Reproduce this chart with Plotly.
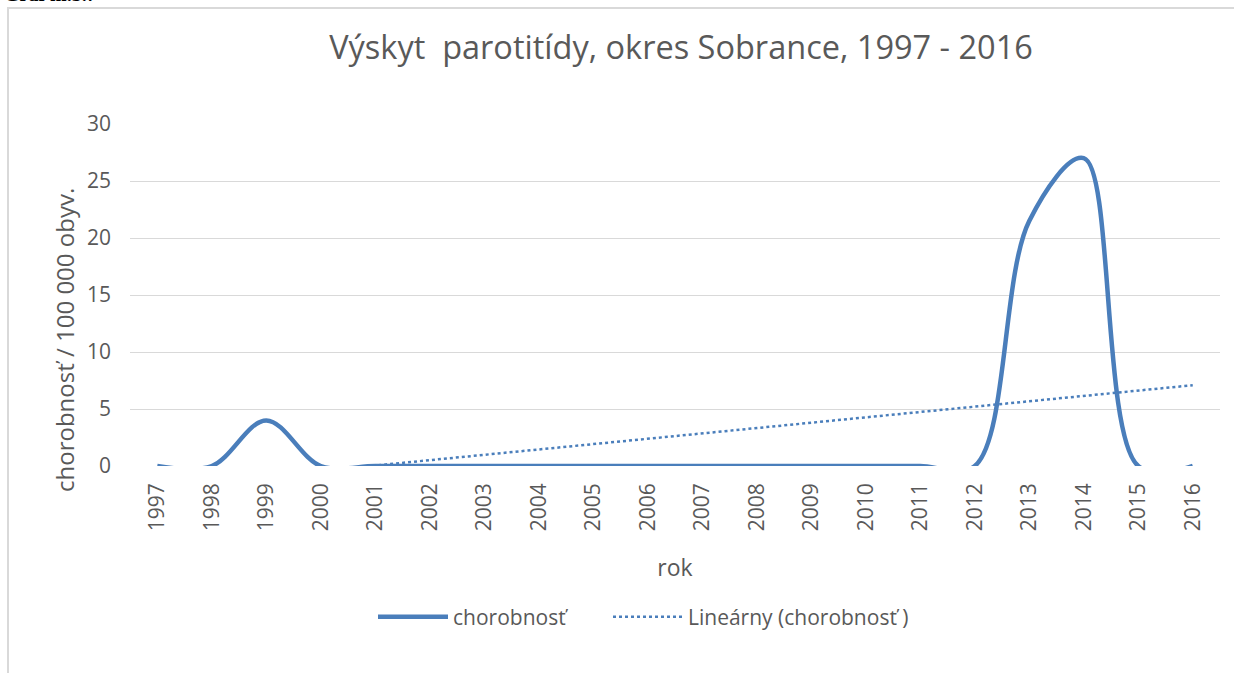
import numpy as np
import plotly.graph_objects as go

years = [str(y) for y in range(1997, 2017)]
chorobnost = [0, 0, 4.0, 0, 0, 0, 0, 0, 0, 0, 0, 0, 0, 0, 0, 0, 21.5, 27.0, 0, 0]

# linear trend (as Excel's "Lineárny" trendline)
xi = np.arange(1, len(years) + 1)
slope, intercept = np.polyfit(xi, chorobnost, 1)
trend = list(slope * xi + intercept)

W, H = 1234, 673
L, R, T, B = 130, 1220, 124, 466  # plot area pixels

def px(x):
    return (x - L) / (R - L)

def py(y):
    return (B - y) / (B - T)

blue = "#4a7ebb"
gray = "#595959"
font = "Open Sans"

fig = go.Figure()
fig.add_trace(go.Scatter(
    x=years, y=chorobnost, mode="lines", name="chorobnosť", legend="legend",
    line=dict(color=blue, width=4.5, shape="spline", smoothing=1.0),
))
fig.add_trace(go.Scatter(
    x=years, y=trend, mode="lines", name="Lineárny (chorobnosť )", legend="legend2",
    line=dict(color=blue, width=2.5, dash="dot"),
))

legend_common = dict(orientation="h", yanchor="middle", xanchor="left", y=py(617),
                     font=dict(size=21, color=gray), itemwidth=70,
                     bgcolor="rgba(0,0,0,0)")

fig.update_layout(
    width=W, height=H,
    margin=dict(l=L, r=W - R, t=T, b=H - B),
    paper_bgcolor="white", plot_bgcolor="white",
    font=dict(family=font, color=gray, size=18),
    title=dict(text="Výskyt  parotitídy, okres Sobrance, 1997 - 2016",
               xref="container", x=681 / W, xanchor="center", y=1 - 48 / H, yanchor="middle",
               font=dict(size=32.5, color=gray, family=font)),
    xaxis=dict(type="category", range=[-0.5, len(years) - 0.5],
               tickangle=-90, showgrid=False, showline=False,
               ticks="", ticklabelstandoff=12, tickfont=dict(size=21, color=gray),
               title=dict(text="rok", font=dict(size=23, color=gray), standoff=29)),
    yaxis=dict(range=[0, 30], dtick=5, showgrid=True, gridcolor="#d9d9d9", gridwidth=1,
               zeroline=False, showline=False, ticks="", ticklabelstandoff=18,
               tickfont=dict(size=21, color=gray)),
    legend=dict(x=px(373), **legend_common),
    legend2=dict(x=px(608), **legend_common),
    showlegend=True,
)

# y-axis title (placed off-centre as in the original)
fig.add_annotation(text="chorobnosť / 100 000 obyv.", xref="paper", yref="paper",
                   x=px(64), y=py(340), xanchor="center", yanchor="middle", textangle=-90,
                   showarrow=False, font=dict(size=24, color=gray, family=font))

# outer chart frame
fig.add_shape(type="rect", xref="paper", yref="paper",
              x0=px(8), x1=px(1250), y0=py(700), y1=py(8),
              line=dict(color="#d9d9d9", width=2), fillcolor="rgba(0,0,0,0)", layer="below")

# cropped caption at top-left
fig.add_annotation(text="<b>Graf m.3.7</b>", xref="paper", yref="paper",
                   x=px(2), xanchor="left", y=py(7), yanchor="bottom",
                   showarrow=False, font=dict(family="Liberation Serif", size=20, color="black"))

fig.write_html("out.html", config={"displayModeBar": False},
               post_script="document.body.style.margin='0';document.body.style.overflow='hidden';")
